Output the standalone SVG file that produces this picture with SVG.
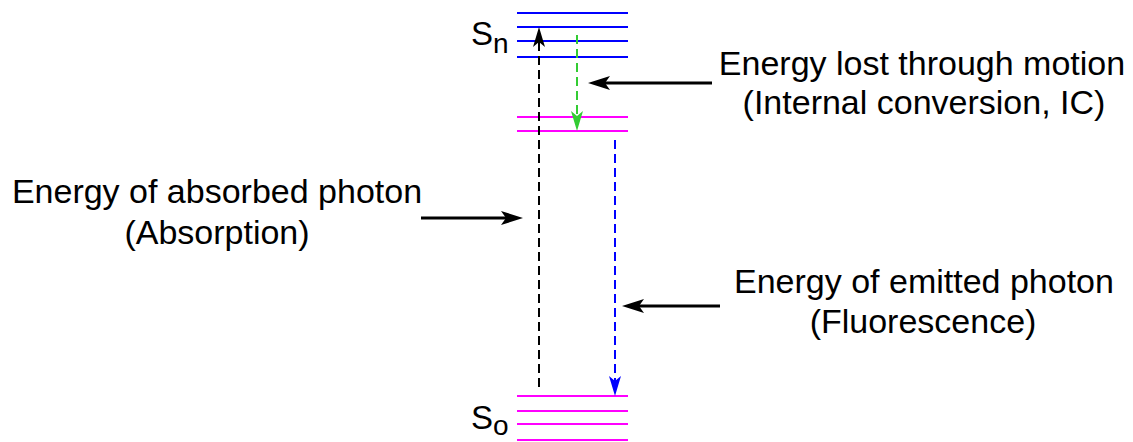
<svg xmlns="http://www.w3.org/2000/svg" width="1133" height="442" viewBox="0 0 1133 442">
<style>
text{font-family:"Liberation Sans",Arial,sans-serif;fill:#000}
.lbl{font-size:34px;text-anchor:middle}
.sn{stroke:#0000ff;stroke-width:2}
.mg{stroke:#ff00ff;stroke-width:2}
.solid{stroke:#000;stroke-width:3;fill:none}
.dash{stroke-width:2;fill:none;stroke-dasharray:9 5}
</style>
<defs>
<marker id="ah" markerUnits="userSpaceOnUse" markerWidth="30" markerHeight="20" viewBox="-25 -10 30 20" refX="-17" refY="0" orient="auto">
<path d="M0,0 L-22,-7 L-17,0 L-22,7 Z" fill="#000"/>
</marker>
<marker id="dk" markerUnits="userSpaceOnUse" markerWidth="30" markerHeight="20" viewBox="-25 -10 30 20" refX="-15" refY="0" orient="auto">
<path d="M0,0 L-20,-6 L-15,0 L-20,6 Z" fill="#000"/>
</marker>
<marker id="dg" markerUnits="userSpaceOnUse" markerWidth="30" markerHeight="20" viewBox="-25 -10 30 20" refX="-15" refY="0" orient="auto">
<path d="M0,0 L-20,-6 L-15,0 L-20,6 Z" fill="#33cc33"/>
</marker>
<marker id="db" markerUnits="userSpaceOnUse" markerWidth="30" markerHeight="20" viewBox="-25 -10 30 20" refX="-15" refY="0" orient="auto">
<path d="M0,0 L-20,-6 L-15,0 L-20,6 Z" fill="#0000ff"/>
</marker>
</defs>
<g id="Sn">
<line class="sn" x1="517" y1="13" x2="628" y2="13"/>
<line class="sn" x1="517" y1="27" x2="628" y2="27"/>
<line class="sn" x1="517" y1="41" x2="628" y2="41"/>
<line class="sn" x1="517" y1="57" x2="628" y2="57"/>
<text x="471" y="45" font-size="33">S<tspan font-size="28" dy="8">n</tspan></text>
</g>
<g id="S1">
<line class="mg" x1="517" y1="117" x2="628" y2="117"/>
<line class="mg" x1="517" y1="131" x2="628" y2="131"/>
</g>
<g id="S0">
<line class="mg" x1="517" y1="396" x2="628" y2="396"/>
<line class="mg" x1="517" y1="411" x2="628" y2="411"/>
<line class="mg" x1="517" y1="424" x2="628" y2="424"/>
<line class="mg" x1="517" y1="440" x2="628" y2="440"/>
<text x="471" y="429" font-size="33">S<tspan font-size="28" dy="6">o</tspan></text>
</g>
<g id="label-ic">
<text class="lbl" x="922" y="75">Energy lost through motion</text>
<text class="lbl" x="924" y="114">(Internal conversion, IC)</text>
</g>
<g id="label-abs">
<text class="lbl" x="217" y="203">Energy of absorbed photon</text>
<text class="lbl" x="217" y="244">(Absorption)</text>
</g>
<g id="label-fl">
<text class="lbl" x="924" y="293">Energy of emitted photon</text>
<text class="lbl" x="923" y="333">(Fluorescence)</text>
</g>
<g id="connectors">
<line class="dash" stroke="#000" x1="539" y1="387" x2="539" y2="42" marker-end="url(#dk)"/>
<line class="dash" stroke="#33cc33" x1="577" y1="35" x2="577" y2="116" marker-end="url(#dg)"/>
<line class="dash" stroke="#0000ff" x1="615" y1="140" x2="615" y2="381" marker-end="url(#db)"/>
<line class="solid" x1="421" y1="218" x2="506" y2="218" marker-end="url(#ah)"/>
<line class="solid" x1="712" y1="83" x2="605" y2="83" marker-end="url(#ah)"/>
<line class="solid" x1="720" y1="306" x2="639" y2="306" marker-end="url(#ah)"/>
</g>
</svg>
